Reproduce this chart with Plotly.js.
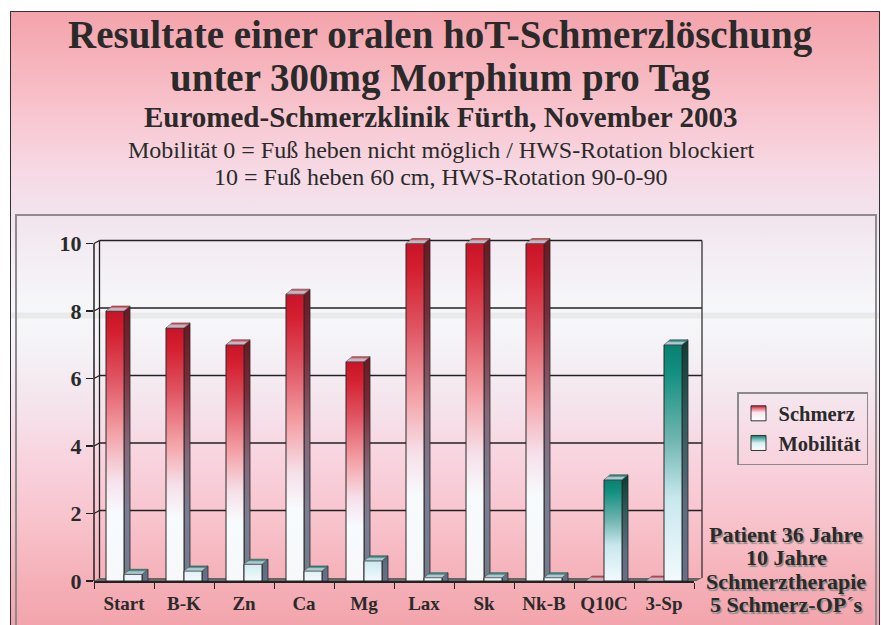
<!DOCTYPE html>
<html>
<head>
<meta charset="utf-8">
<script src="https://cdn.plot.ly/plotly-3.0.1.min.js"></script>
<style>
html,body{margin:0;padding:0;width:881px;height:625px;overflow:hidden;background:#ffffff;}
#frame{position:absolute;left:10px;top:11px;width:868px;height:625px;border:1.5px solid #333;border-bottom:none;
 background:linear-gradient(to bottom,#f4a3ac 0px,#f6b3bb 49px,#f8c8d2 109px,#f6d9e4 159px,#f2e4ed 204px,#f3ecf3 239px,#f6f6f9 289px,#f6f7fa 300px,#eaeaea 301px,#eaeaea 306px,#f6f7fa 307px,#f4eff4 349px,#f5e2eb 399px,#f8d3de 449px,#f8c3cc 509px,#f5b0b8 569px,#f3a4ac 614px);}
#inner{position:absolute;left:15px;top:214px;width:858px;height:430px;border:2px solid #8e8a8e;border-bottom:none;}
#chart{position:absolute;left:0;top:0;width:881px;height:625px;}
</style>
</head>
<body>
<div id="frame"></div>
<div id="inner"></div>
<div id="chart"></div>
<script>
// ---- data ----
const categories = ['Start','B-K','Zn','Ca','Mg','Lax','Sk','Nk-B','Q10C','3-Sp'];
const schmerz    = [8, 7.5, 7, 8.5, 6.5, 10, 10, 10, 0, 0];
const mobilitaet = [0.2, 0.3, 0.5, 0.3, 0.6, 0.1, 0.1, 0.1, 3, 7];
const yTicks = [0, 2, 4, 6, 8, 10];
const titleLines = [
  'Resultate einer oralen hoT-Schmerzlöschung',
  'unter 300mg Morphium pro Tag',
  'Euromed-Schmerzklinik Fürth, November 2003',
  'Mobilität 0 = Fuß heben nicht möglich / HWS-Rotation blockiert',
  '10 = Fuß heben 60 cm, HWS-Rotation 90-0-90'
];
const noteLines = ['Patient 36 Jahre', '10 Jahre', 'Schmerztherapie', '5 Schmerz-OP´s'];

// ---- geometry / style ----
const FONT = 'Liberation Serif, Times New Roman, serif';
const TXT = '#2a2a2a';
const ML = 94, MR = 187, MT = 230, MB = 44;
const PW = 881 - ML - MR, PH = 625 - MT - MB;
const YMAX = 10.4;
const U = PH / YMAX;
const DEPTH = 5 / U;           // top-face depth in data units
const WALL = 3 / U;            // back wall offset in data units
const xp = px => (px - ML) / PW;
const yp = py => (625 - MB - py) / PH;

const common = {type: 'bar', x: categories, hoverinfo: 'skip'};
const traces = [
  Object.assign({}, common, {y: schmerz, offset: 0, width: 0.1, showlegend: false,
    marker: {color: '#7a2a38', line: {color: '#2a2a2a', width: 0.8}}}),
  Object.assign({}, common, {name: 'Schmerz', y: schmerz, offset: -0.3, width: 0.3,
    marker: {color: '#e06070', line: {color: '#2a2a2a', width: 1}}}),
  Object.assign({}, common, {y: schmerz.map(() => DEPTH), base: schmerz, offset: -0.3, width: 0.4, showlegend: false,
    marker: {color: '#c8b8c6', line: {color: '#555', width: 0.6}}}),
  Object.assign({}, common, {y: mobilitaet, offset: 0.3, width: 0.1, showlegend: false,
    marker: {color: '#2f5a5a', line: {color: '#2a2a2a', width: 0.8}}}),
  Object.assign({}, common, {name: 'Mobilität', y: mobilitaet, offset: 0, width: 0.3,
    marker: {color: '#6fb5b0', line: {color: '#2a2a2a', width: 1}}}),
  Object.assign({}, common, {y: mobilitaet.map(() => DEPTH), base: mobilitaet, offset: 0, width: 0.4, showlegend: false,
    marker: {color: '#b8ccd4', line: {color: '#555', width: 0.6}}})
];
const kinds = ['sSide','sFront','sTop','mSide','mFront','mTop'];

// back wall, grid and floor shapes
const bx0 = xp(99.5), bx1 = xp(702);
const shapes = [];
shapes.push({type: 'path', xref: 'paper', yref: 'y', layer: 'below',
  path: `M 0,0 L ${bx0},${WALL} L ${bx1},${WALL} L ${xp(696.5)},0 Z`,
  fillcolor: '#666666', line: {width: 0}});
yTicks.filter(v => v > 0).forEach(v => {
  shapes.push({type: 'line', xref: 'paper', yref: 'y', layer: 'below', x0: bx0, x1: bx1, y0: v + WALL, y1: v + WALL,
    line: {color: '#222', width: 1.3}});
  shapes.push({type: 'line', xref: 'paper', yref: 'y', layer: 'below', x0: 0, x1: bx0, y0: v, y1: v + WALL,
    line: {color: '#222', width: 1.3}});
});
shapes.push({type: 'line', xref: 'paper', yref: 'y', layer: 'below', x0: bx0, x1: bx0, y0: WALL, y1: 10 + WALL, line: {color: '#222', width: 1.3}});
shapes.push({type: 'line', xref: 'paper', yref: 'y', layer: 'below', x0: bx1, x1: bx1, y0: WALL, y1: 10 + WALL, line: {color: '#333', width: 1.3}});
shapes.push({type: 'line', xref: 'paper', yref: 'y', layer: 'above', x0: 0, x1: 0, y0: 0, y1: 10, line: {color: '#222', width: 1.5}});

const annotations = [];
const tSpec = [[39, 34.7, 'bold'], [39, 77.7, 'bold'], [29, 117, 'bold'], [24, 150, 'normal'], [24, 177, 'normal']];
titleLines.forEach((t, i) => {
  annotations.push({text: t, xref: 'paper', yref: 'paper', x: xp(440.5), y: yp(tSpec[i][1]),
    xanchor: 'center', yanchor: 'middle', showarrow: false,
    font: {family: FONT, size: tSpec[i][0], color: TXT, weight: tSpec[i][2]}});
});
const nY = [534, 557.5, 581, 604.5];
noteLines.forEach((t, i) => {
  annotations.push({text: t, xref: 'paper', yref: 'paper', x: xp(786), y: yp(nY[i]),
    xanchor: 'center', yanchor: 'middle', showarrow: false,
    font: {family: FONT, size: 22, color: TXT, weight: 'bold', shadow: '1.5px 1.5px 1px #8c8c8c'}});
});

const layout = {
  width: 881, height: 625,
  margin: {l: ML, r: MR, t: MT, b: MB, pad: 0},
  paper_bgcolor: 'rgba(0,0,0,0)', plot_bgcolor: 'rgba(0,0,0,0)',
  barmode: 'overlay',
  font: {family: FONT, color: TXT},
  xaxis: {type: 'category', range: [-0.5, 9.5], showgrid: false, zeroline: false,
    showline: true, linecolor: '#222', linewidth: 1.5, ticks: 'outside', tickson: 'boundaries',
    ticklen: 6, tickcolor: '#222', ticklabelstandoff: 5,
    tickfont: {family: FONT, size: 19, color: TXT, weight: 'bold'}},
  yaxis: {range: [0, YMAX], tickvals: yTicks, ticktext: yTicks.map(String), showgrid: false, zeroline: false,
    showline: false, ticks: 'outside', ticklen: 7, tickcolor: '#222', tickwidth: 1.3,
    tickfont: {family: FONT, size: 22, color: TXT, weight: 'bold'}},
  legend: {x: xp(737), y: yp(392), xanchor: 'left', yanchor: 'top', bgcolor: 'rgba(0,0,0,0)',
    bordercolor: '#8a8a8a', borderwidth: 1.5, itemwidth: 30, tracegroupgap: 0,
    font: {family: FONT, size: 20.5, color: TXT, weight: 'bold'}},
  shapes: shapes,
  annotations: annotations
};

const gradStops = {
  sFront: [[0,'#c81428'],[0.08,'#d41f30'],[0.25,'#e05462'],[0.45,'#f4a0a6'],[0.62,'#f6dfe8'],[0.75,'#f8fbfd'],[1,'#f6f8fa']],
  sSide:  [[0,'#6e1a24'],[0.2,'#7a2a38'],[0.5,'#86687a'],[0.75,'#7c7e94'],[1,'#747a8c']],
  mFront: [[0,'#08806f'],[0.12,'#139080'],[0.4,'#6fb5b0'],[0.65,'#c8e8ee'],[1,'#f2fafd']],
  mSide:  [[0,'#0d3f38'],[0.3,'#2f5a5a'],[0.7,'#5d6e80'],[1,'#66718a']],
  sTop:   [[0,'#d02a3a'],[0.3,'#d86a78'],[0.45,'#c6b2c0'],[1,'#c2bccb']],
  mTop:   [[0,'#0a7868'],[0.35,'#5a9a98'],[0.5,'#a8c4cc'],[1,'#b8ccd4']],
  sLeg:   [[0,'#c81428'],[0.18,'#e87080'],[0.45,'#f8e8ee'],[1,'#ffffff']],
  mLeg:   [[0,'#0a7868'],[0.2,'#5ab0a8'],[0.5,'#d8f0f4'],[1,'#ffffff']]
};

const gd = document.getElementById('chart');
Plotly.newPlot(gd, traces, layout, {staticPlot: true, displayModeBar: false}).then(() => {
  const NS = 'http://www.w3.org/2000/svg';
  const svg = gd.querySelector('svg.main-svg');
  let defs = svg.querySelector('defs');
  if (!defs) { defs = document.createElementNS(NS, 'defs'); svg.insertBefore(defs, svg.firstChild); }
  let gid = 0;
  function makeGrad(stops, y1, y2) {
    const g = document.createElementNS(NS, 'linearGradient');
    const id = 'rg' + (gid++);
    g.setAttribute('id', id);
    g.setAttribute('x1', '0'); g.setAttribute('x2', '0');
    if (y1 === undefined) { g.setAttribute('y1', '0'); g.setAttribute('y2', '1'); }
    else { g.setAttribute('gradientUnits', 'userSpaceOnUse'); g.setAttribute('y1', y1); g.setAttribute('y2', y2); }
    stops.forEach(s => {
      const st = document.createElementNS(NS, 'stop');
      st.setAttribute('offset', s[0]); st.setAttribute('stop-color', s[1]);
      g.appendChild(st);
    });
    defs.appendChild(g);
    return 'url(#' + id + ')';
  }
  const boxGrad = {};
  Object.keys(gradStops).forEach(k => boxGrad[k] = makeGrad(gradStops[k]));

  const tgs = gd.querySelectorAll('.barlayer .trace');
  tgs.forEach((g, ti) => {
    const kind = kinds[ti];
    g.querySelectorAll('path').forEach(p => {
      const d = p.getAttribute('d') || '';
      const n = (d.match(/-?\d+(\.\d+)?(e-?\d+)?/g) || []).map(Number);
      if (n.length < 4 || d === 'M0,0Z') return;
      const x0 = n[0], yb = n[1], yt = n[2], x1 = n[3];
      const h = yb - yt;
      if (kind === 'sTop' || kind === 'mTop') {
        const dx = (x1 - x0) * 0.25;
        p.setAttribute('d', `M${x0},${yb}L${x1 - dx},${yb}L${x1},${yt}L${x0 + dx},${yt}Z`);
        p.style.fill = boxGrad[kind];
      } else if (kind === 'sSide' || kind === 'mSide') {
        p.setAttribute('d', `M${x0},${yb}V${yt}L${x1},${yt - 5}V${yb}Z`);
        const L = Math.max(h, 60);
        p.style.fill = makeGrad(gradStops[kind], yb - L, yb);
      } else {
        const L = Math.max(h, 60);
        p.style.fill = makeGrad(gradStops[kind], yb - L, yb);
      }
    });
  });
  const legs = gd.querySelectorAll('.legend .traces');
  legs.forEach((g, i) => {
    g.querySelectorAll('.legendpoints path').forEach(p => {
      p.setAttribute('d', 'M7.5,7.5H-7.5V-7.5H7.5Z');
      p.style.fill = i === 0 ? boxGrad.sLeg : boxGrad.mLeg;
      p.style.stroke = '#333'; p.style.strokeWidth = '1px';
    });
  });
});
</script>
</body>
</html>
